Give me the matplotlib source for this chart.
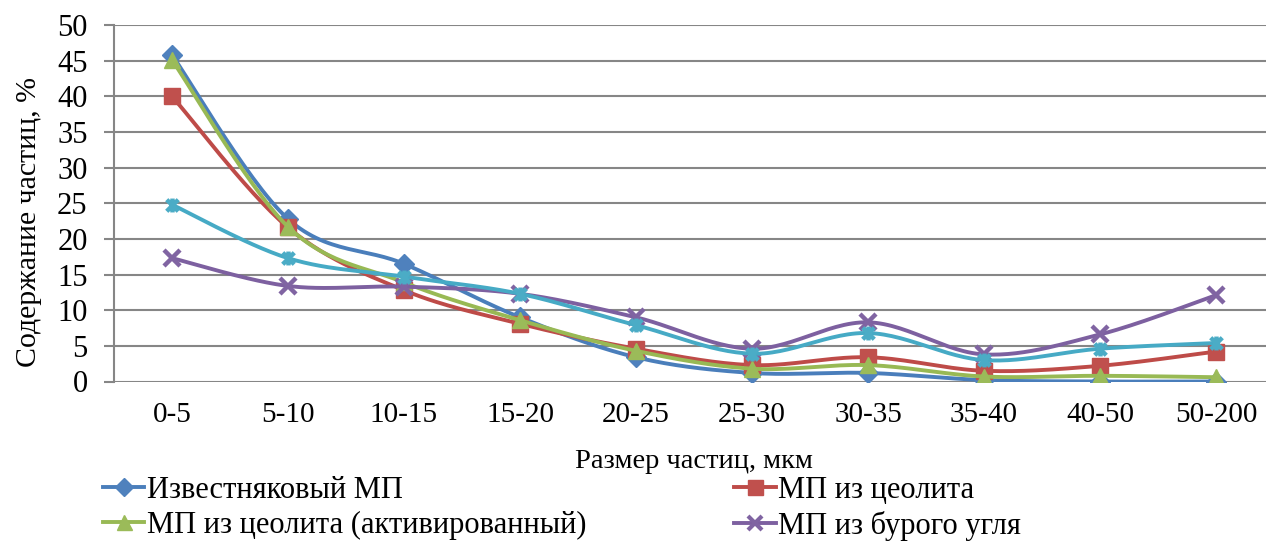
import numpy as np
import matplotlib
matplotlib.use("Agg")
import matplotlib.pyplot as plt
from matplotlib.path import Path

plt.rcParams['font.family'] = ['Liberation Serif', 'DejaVu Serif']

categories = ["0-5", "5-10", "10-15", "15-20", "20-25", "25-30", "30-35", "35-40", "40-50", "50-200"]
limestone = [45.8, 22.8, 16.5, 9.0, 3.4, 1.2, 1.2, 0.2, 0.0, 0.0]
zeolite = [40.0, 21.6, 12.8, 8.1, 4.6, 2.3, 3.4, 1.5, 2.2, 4.2]
zeolite_act = [45.1, 21.7, 13.9, 8.6, 4.3, 1.8, 2.3, 0.7, 0.8, 0.6]
brown_coal = [17.3, 13.4, 13.3, 12.3, 9.0, 4.6, 8.3, 3.8, 6.6, 12.1]
fifth = [24.8, 17.3, 14.7, 12.3, 7.9, 3.9, 6.8, 3.0, 4.6, 5.4]

names = ["Известняковый МП", "МП из цеолита", "МП из цеолита (активированный)", "МП из бурого угля"]
y_label = "Содержание частиц, %"
x_label = "Размер частиц, мкм"
y_ticks = [0, 5, 10, 15, 20, 25, 30, 35, 40, 45, 50]


def smooth(x, y, n=30):
    x = np.asarray(x, float)
    y = np.asarray(y, float)
    P = np.column_stack([x, y])
    Pe = np.vstack([P[0], P, P[-1]])
    out = [P[0]]
    t = np.linspace(0, 1, n)[1:, None]
    for i in range(len(P) - 1):
        p0 = Pe[i + 1]
        p3 = Pe[i + 2]
        c1 = p0 + (Pe[i + 2] - Pe[i]) / 6.0
        c2 = p3 - (Pe[i + 3] - Pe[i + 1]) / 6.0
        seg = ((1 - t) ** 3) * p0 + 3 * ((1 - t) ** 2) * t * c1 + 3 * (1 - t) * t ** 2 * c2 + t ** 3 * p3
        out.extend(seg)
    out = np.array(out)
    return out[:, 0], out[:, 1]


star = Path([(-1, -1), (1, 1), (-1, 1), (1, -1), (0, -1.2), (0, 1.2)],
            [Path.MOVETO, Path.LINETO, Path.MOVETO, Path.LINETO, Path.MOVETO, Path.LINETO])

fig = plt.figure(figsize=(12.66, 5.44), dpi=100)
ax = fig.add_axes([114 / 1266, 1 - 381.5 / 544, 1160 / 1266, 356.5 / 544])

x = np.arange(len(categories))
series = [
    (limestone, '#4A7EBB', '#4F81BD', 'D', 10, names[0]),
    (zeolite, '#BE4B48', '#C0504D', 's', 12, names[1]),
    (zeolite_act, '#98B954', '#9BBB59', '^', 12, names[2]),
    (brown_coal, '#7D60A0', '#8064A2', 'x', 11, names[3]),
    (fifth, '#46AAC5', '#4BACC6', star, 10, '_nolegend_'),
]
handles = []
for i, (vals, lc, mc, mk, ms, name) in enumerate(series):
    xs, ys = smooth(x, vals)
    ax.plot(xs, ys, color=lc, lw=2.8, zorder=3 + i, solid_capstyle='round')
    if mk in ('x',) or mk is star:
        ax.plot(x, vals, ls='none', marker=mk, ms=ms, mec=mc, mew=3.2, zorder=3 + i)
    else:
        ax.plot(x, vals, ls='none', marker=mk, ms=ms, mfc=mc, mec=mc, zorder=3 + i)
    h, = ax.plot([], [], color=lc, lw=2.8, marker=mk, ms=ms * 0.9, mfc=mc, mec=mc,
                 mew=(3.0 if (mk == 'x' or mk is star) else 1.0))
    if name != '_nolegend_':
        handles.append((h, name))

ax.set_xlim(-0.5, len(categories) - 0.5)
ax.set_ylim(0, 50)
ax.set_yticks(y_ticks)
ax.set_xticks(x)
ax.set_xticklabels(categories)
ax.grid(axis='y', color='#868686', lw=1.5, zorder=0)
ax.set_axisbelow(True)
for s in ['top', 'right', 'bottom']:
    ax.spines[s].set_visible(False)
ax.spines['left'].set_color('#868686')
ax.spines['left'].set_linewidth(1.5)
ax.tick_params(axis='y', length=7, width=1.5, color='#868686', labelsize=22, pad=12)
ax.tick_params(axis='x', length=0, labelsize=21, pad=15)
ax.set_ylabel(y_label, fontsize=21.5)
ax.yaxis.set_label_coords((42 - 114) / 1160, (381.5 - 222) / 356.5)
ax.set_xlabel(x_label, fontsize=20.5, labelpad=15)

order = [0, 2, 1, 3]
leg = fig.legend([handles[i][0] for i in order], [handles[i][1] for i in order],
                 ncol=2, loc='upper left', bbox_to_anchor=(103 / 1266, 1 - 476 / 544),
                 frameon=False, fontsize=22, handlelength=1.35, handletextpad=0.08,
                 columnspacing=4.85, labelspacing=0.2, borderpad=0, borderaxespad=0)

fig.savefig('out.png', dpi=100)
